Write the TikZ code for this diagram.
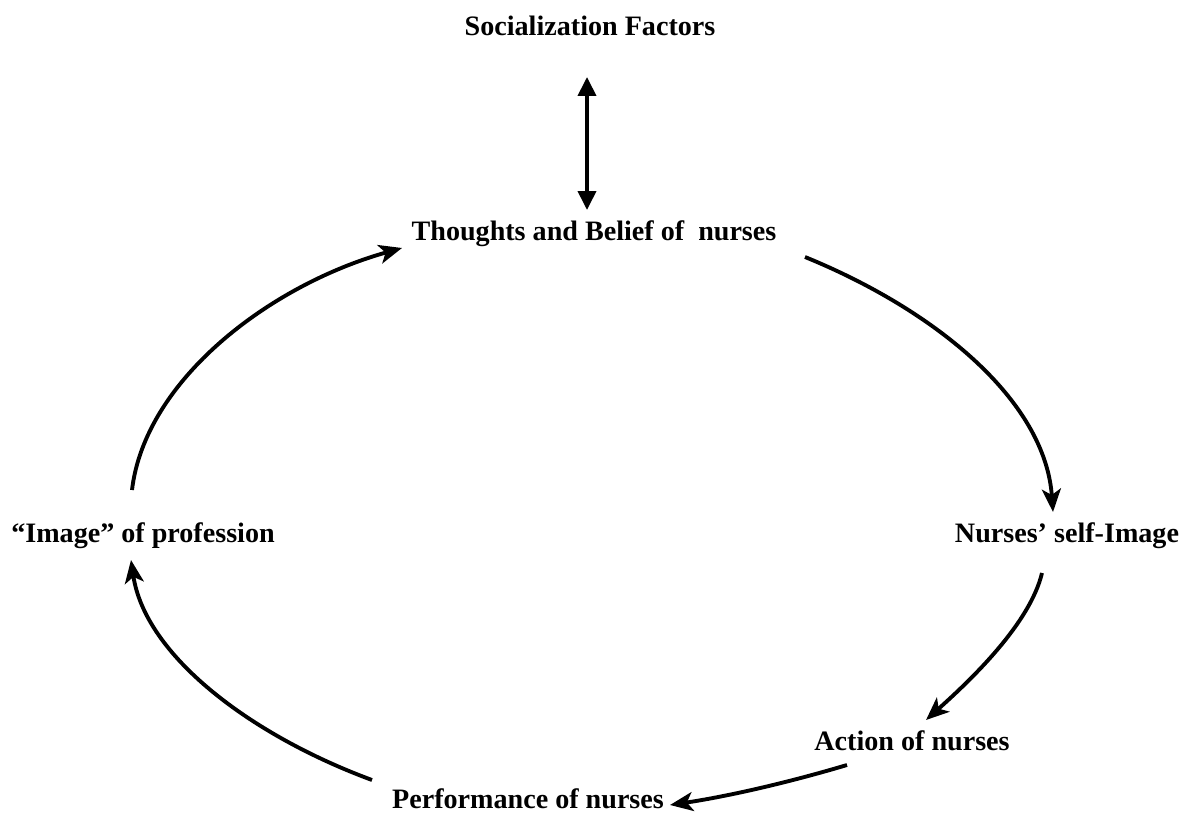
\documentclass[tikz,border=0pt]{standalone}
\usepackage{fontspec}
\setmainfont{Liberation Serif}
\usetikzlibrary{arrows.meta}
\tikzset{
	lab/.style={font=\fontsize{16}{19}\selectfont\bfseries,inner sep=0pt},
	flow/.style={line width=2.2pt,-{Stealth[length=4.6mm,width=3.8mm,inset=1.2mm]}},
	link/.style={line width=2.2pt,{Triangle[length=3.8mm,width=3.6mm]}-{Triangle[length=3.8mm,width=3.6mm]}}
}
\begin{document}
\begin{tikzpicture}[x=0.02cm,y=-0.02cm]
		\useasboundingbox(0,0) rectangle(1194,814);
		\node[lab](soc) at(590,26){Socialization Factors};
		\node[lab](tho) at(594,234){Thoughts and Belief of\ \ nurses};
		\node[lab](slf) at(1067,536){Nurses’ self-Image};
		\node[lab](act) at(912,741){Action of nurses};
		\node[lab](prf) at(528,799){Performance of nurses};
		\node[lab](img) at(143,536){“Image” of profession};
		\coordinate(s1) at(587,77);
		\coordinate(s2) at(587,210);
		\coordinate(a1) at(132,490);
		\coordinate(a2) at(402,248);
		\coordinate(b1) at(805,257);
		\coordinate(b2) at(1053,512);
		\coordinate(c1) at(1042,573);
		\coordinate(c2) at(926,720);
		\coordinate(d1) at(847,765);
		\coordinate(d2) at(670,805);
		\coordinate(e1) at(372,780);
		\coordinate(e2) at(131,560);
		\draw[link](s1)--(s2);
		\draw[flow](a1) .. controls(145,380) and (270,285) .. (a2);
		\draw[flow](b1) .. controls(935,310) and (1045,400) .. (b2);
		\draw[flow](c1) .. controls(1030,623) and (973,678) .. (c2);
		\draw[flow](d1) .. controls(790,782) and (730,796) .. (d2);
		\draw[flow](e1) .. controls(250,735) and (145,655) .. (e2);
		\end{tikzpicture}
\end{document}
